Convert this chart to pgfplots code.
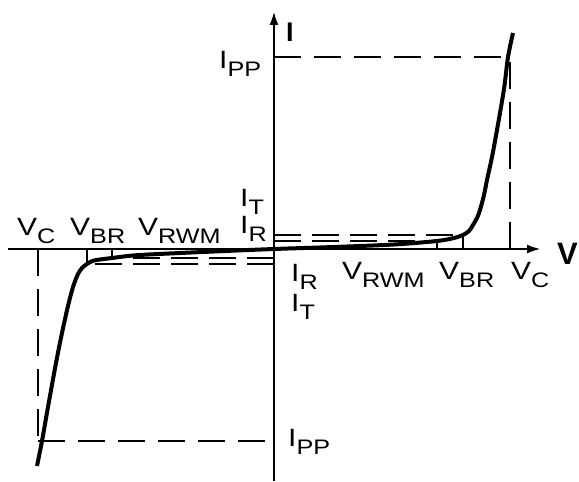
\documentclass[border=0pt]{standalone}
\usepackage{pgfplots}
\pgfplotsset{compat=1.18}
\usetikzlibrary{arrows.meta}
\usepackage{fontspec}
\setmainfont{Liberation Sans}
\newfontfamily\labfont[FakeStretch=1.2]{Liberation Sans}
\newcommand{\lab}[2]{{\labfont\fontsize{25}{25}\selectfont #1\raisebox{-8pt}{\fontsize{21}{21}\selectfont #2}}}
\begin{document}
\begin{tikzpicture}
\begin{axis}[scale only axis, width=579pt, height=481pt,
  xmin=-274, xmax=305, ymin=-232, ymax=249, hide axis, clip=false]
\path (rel axis cs:0,0) rectangle (rel axis cs:1,1);
% axes
\draw[line width=1.3pt, -{Latex[length=13pt,width=9pt]}] (axis cs:-266,0) -- (axis cs:266,0);
\draw[line width=1.3pt, -{Latex[length=13pt,width=9pt]}] (axis cs:0,-232) -- (axis cs:0,237);
% dashed guides
\addplot[black, line width=1.2pt, dash pattern=on 27pt off 13pt] coordinates {(0,192) (236,192)};
\addplot[black, line width=1.2pt, dash pattern=on 27pt off 13pt] coordinates {(236,0) (236,192)};
\addplot[black, line width=1.2pt, dash pattern=on 27pt off 13pt] coordinates {(-236,-192) (0,-192)};
\addplot[black, line width=1.2pt, dash pattern=on 27pt off 13pt] coordinates {(-236,0) (-236,-192)};
\addplot[black, line width=1.1pt, dash pattern=on 27pt off 11pt] coordinates {(0,14) (189,14)};
\addplot[black, line width=1.1pt, dash pattern=on 27pt off 11pt] coordinates {(0,8) (163,8)};
\addplot[black, line width=1.1pt, dash pattern=on 27pt off 11pt] coordinates {(0,-9) (-162,-9)};
\addplot[black, line width=1.1pt, dash pattern=on 27pt off 11pt] coordinates {(0,-15) (-187,-15)};
% ticks
\addplot[black, line width=1.1pt] coordinates {(163,0) (163,8)};
\addplot[black, line width=1.1pt] coordinates {(189,0) (189,14)};
\addplot[black, line width=1.1pt] coordinates {(-162,0) (-162,-9)};
\addplot[black, line width=1.1pt] coordinates {(-187,0) (-187,-15)};
% characteristic
\addplot[black, line width=4pt, smooth, tension=0.5] coordinates {
(-237,-217) (-232,-192) (-226,-158) (-218,-114) (-212,-84) (-206,-57) (-201,-38) (-196,-25) (-192,-19) (-187,-15) (-180,-11.5) (-162,-9) (-134,-6) (-60,-2.5) (0,0)
(60,2) (120,4.5) (163,8) (180,11) (189,14) (195,18) (199,24) (203,31) (206,39) (210,54) (213,69) (218,92) (223,119) (230,160) (234,192) (239,216)};
% labels
\node[anchor=base west, inner sep=0] at (axis cs:-257,13) {\lab{V}{C}};
\node[anchor=base west, inner sep=0] at (axis cs:-204,13) {\lab{V}{BR}};
\node[anchor=base west, inner sep=0] at (axis cs:-136,13) {\lab{V}{RWM}};
\node[anchor=base west, inner sep=0] at (axis cs:-34,15) {\lab{I}{R}};
\node[anchor=base west, inner sep=0] at (axis cs:-34,42) {\lab{I}{T}};
\node[anchor=base west, inner sep=0] at (axis cs:-55,180) {\lab{I}{PP}};
\node[anchor=base west, inner sep=0] at (axis cs:17,-33) {\lab{I}{R}};
\node[anchor=base west, inner sep=0] at (axis cs:17,-63) {\lab{I}{T}};
\node[anchor=base west, inner sep=0] at (axis cs:68,-31) {\lab{V}{RWM}};
\node[anchor=base west, inner sep=0] at (axis cs:165,-31) {\lab{V}{BR}};
\node[anchor=base west, inner sep=0] at (axis cs:237,-31) {\lab{V}{C}};
\node[anchor=base west, inner sep=0] at (axis cs:14,-198) {\lab{I}{PP}};
\node[anchor=base west, inner sep=0] at (axis cs:12,207) {\fontsize{27}{27}\selectfont\bfseries I};
\node[anchor=base west, inner sep=0] at (axis cs:283,-16) {\fontsize{31}{31}\selectfont\bfseries V};
\end{axis}
\end{tikzpicture}
\end{document}
